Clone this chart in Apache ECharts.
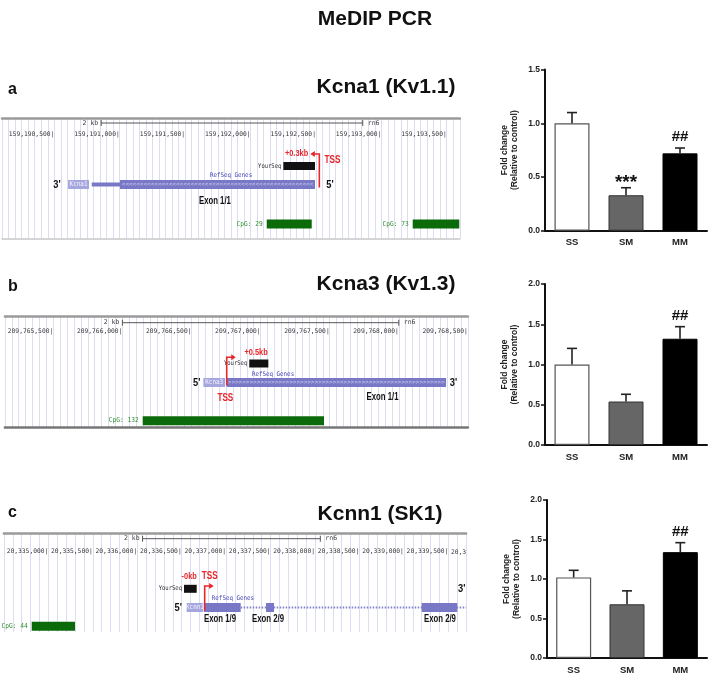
<!DOCTYPE html>
<html><head><meta charset="utf-8">
<script src="https://cdn.jsdelivr.net/npm/echarts@6/dist/echarts.min.js"></script>
<style>html,body{margin:0;padding:0;background:#fff}#c{width:708px;height:678px}</style>
</head><body><div id="c"></div>
<script>
// ---------------- bar chart data ----------------
const groups = ['SS', 'SM', 'MM'];
const kcna1Mean = [1.00, 0.33, 0.72];
const kcna1Upper = [1.10, 0.40, 0.77];
const kcna1Sig = ['', '***', '##'];
const kcna3Mean = [1.00, 0.54, 1.32];
const kcna3Upper = [1.20, 0.63, 1.47];
const kcna3Sig = ['', '', '##'];
const kcnn1Mean = [1.02, 0.68, 1.34];
const kcnn1Upper = [1.11, 0.85, 1.46];
const kcnn1Sig = ['', '', '##'];
const yMaxA = 1.5, yMaxB = 2.0, yMaxC = 2.0, yStep = 0.5;

// ---------------- genome browser data (genomic coordinates) ----------------
const kcna1Window = [159190100, 159193600];
const kcna3Window = [209765150, 209768500];
const kcnn1Window = [20334500, 20339700];
const guideStepA = 50, guideStepB = 50, guideStepC = 100, labelStep = 500;

const kcna1Features = [
  ['ruler', 159190858, 159192858, '2 kb'],
  ['name', 159190605, 159190765, 'Kcna1'],
  ['utr', 159190786, 159191002],
  ['cds', 159191002, 159192493, '<'],
  ['yourseq', 159192251, 159192493],
  ['cpg', 159192124, 159192468, 'CpG: 29'],
  ['cpg', 159193240, 159193596, 'CpG: 73'],
  ['tss', 159192526, 159192526, '', -1],
  ['prime', 159190520, 159190520, "3'", 'gene'],
  ['prime', 159192608, 159192608, "5'", 'gene'],
  ['refseq', 159191851, 159191851, 'RefSeq Genes'],
  ['exon', 159191728, 159191728, 'Exon 1/1'],
  ['shift', 159192352, 159192352, '+0.3kb'],
  ['tssLabel', 159192627, 159192627, 'TSS']
];
const kcna3Features = [
  ['ruler', 209766000, 209768000, '2 kb'],
  ['name', 209766586, 209766743, 'Kcna3'],
  ['cds', 209766755, 209768342, '>'],
  ['yourseq', 209766918, 209767056],
  ['cpg', 209766147, 209767459, 'CpG: 132'],
  ['tss', 209766755, 209766755, '', 1],
  ['prime', 209766538, 209766538, "5'", 'gene'],
  ['prime', 209768395, 209768395, "3'", 'gene'],
  ['refseq', 209767090, 209767090, 'RefSeq Genes'],
  ['exon', 209767882, 209767882, 'Exon 1/1'],
  ['shift', 209766967, 209766967, '+0.5kb'],
  ['tssLabel', 209766745, 209766745, 'TSS']
];
const kcnn1Features = [
  ['ruler', 20336060, 20338060, '2 kb'],
  ['intron', 20337164, 20339700],
  ['name', 20336556, 20336743, 'Kcnn1'],
  ['cds', 20336751, 20337164, ''],
  ['cds', 20337449, 20337539, ''],
  ['cds', 20339200, 20339601, ''],
  ['yourseq', 20336526, 20336669],
  ['cpg', 20334813, 20335300, 'CpG: 44'],
  ['tss', 20336759, 20336759, '', 1],
  ['prime', 20336462, 20336462, "5'", 'gene'],
  ['prime', 20339650, 20339650, "3'", 'yourseq'],
  ['refseq', 20337077, 20337077, 'RefSeq Genes'],
  ['exon', 20336931, 20336931, 'Exon 1/9'],
  ['exon', 20337471, 20337471, 'Exon 2/9'],
  ['exon', 20339406, 20339406, 'Exon 2/9'],
  ['shift', 20336585, 20336585, '-0kb'],
  ['tssLabel', 20336815, 20336815, 'TSS'],
  ['cutLabel', 20339700, 20339700, '20,3']
];

// ---------------- layout ----------------
const browserLayouts = [
  {left: 2, width: 457.8, top: 118, height: 121, labelMargin: 13, bottom: {show: true, color: '#c8c8c8', width: 1.5},
   rows: {ruler: 5, shift: 35, tssTop: 36, tssLabel: 42, yourseq: 48, refseq: 57.7, gene: 66.5, exon: 82.7, cpg: 106, axisLbl: 17}},
  {left: 4.9, width: 463, top: 316, height: 111, labelMargin: 12.5, bottom: {show: true, color: '#777', width: 2.5},
   rows: {ruler: 6.7, shift: 36.7, tssTop: 41.3, tssLabel: 82.3, yourseq: 47.5, refseq: 58.3, gene: 66.5, exon: 81.3, cpg: 104.7, axisLbl: 16.7}},
  {left: 3.9, width: 462.2, top: 533, height: 99, labelMargin: 15.5, bottom: {show: false, color: '#ccc', width: 1},
   rows: {ruler: 5.7, shift: 43, tssTop: 53, tssLabel: 43, yourseq: 55.8, refseq: 65.3, gene: 74.5, exon: 86.3, cpg: 93.3, axisLbl: 19.7}}
];
const barLayouts = [
  {left: 545, top: 69.6, width: 162, height: 161.1},
  {left: 545, top: 284, width: 162, height: 161},
  {left: 547, top: 500, width: 160, height: 158}
];

const GENE = '#7878c6', RED = '#e8262b', CPG = '#0b6b0b';
const SANS = 'Liberation Sans, Arial, sans-serif';
const MONO = 'DejaVu Sans Mono, monospace';
const AXLBL = 6.3;

function fmtGenome(v) {
  return String(Math.round(v)).replace(/\B(?=(\d{3})+(?!\d))/g, ',') + '|';
}

function txt(x, y, text, font, fill, align, scaleX) {
  return {type: 'text', x: x, y: y, scaleX: scaleX || 1,
    style: {text: text, x: 0, y: 0, font: font, fill: fill, textAlign: align || 'center', textVerticalAlign: 'middle'}};
}

function makeBrowserRender(features, L) {
  return function (params, api) {
    const f = features[params.dataIndex];
    const kind = f[0];
    const top = params.coordSys.y;
    const R = L.rows;
    const X = p => api.coord([p, 0])[0];
    const x1 = X(f[1]);
    const x2 = X(f[2]);
    const gy = top + R.gene;
    const ch = [];
    if (kind === 'ruler') {
      const y = top + R.ruler;
      ch.push({type: 'line', shape: {x1: x1, y1: y, x2: x2, y2: y}, style: {stroke: '#555', lineWidth: 1}});
      ch.push({type: 'line', shape: {x1: x1, y1: y - 3, x2: x1, y2: y + 3}, style: {stroke: '#555', lineWidth: 1}});
      ch.push({type: 'line', shape: {x1: x2, y1: y - 3, x2: x2, y2: y + 3}, style: {stroke: '#555', lineWidth: 1}});
      ch.push(txt(x1 - 3, y, f[3], '6.5px ' + MONO, '#444', 'right'));
      ch.push(txt(x2 + 5, y, 'rn6', '6.5px ' + MONO, '#444', 'left'));
    } else if (kind === 'name') {
      ch.push({type: 'rect', shape: {x: x1, y: gy - 4.5, width: x2 - x1, height: 9}, style: {fill: '#a6a6de'}});
      ch.push(txt((x1 + x2) / 2, gy, f[3], '7px ' + MONO, '#f4f4ff', 'center', 0.85));
    } else if (kind === 'utr') {
      ch.push({type: 'rect', shape: {x: x1, y: gy - 2, width: x2 - x1, height: 4}, style: {fill: GENE}});
    } else if (kind === 'cds') {
      const w = x2 - x1;
      ch.push({type: 'rect', shape: {x: x1, y: gy - 4.5, width: w, height: 9}, style: {fill: GENE}});
      if (f[3]) {
        const n = Math.max(0, Math.floor((w - 3) / 3.6));
        ch.push(txt((x1 + x2) / 2, gy, f[3].repeat(n), '6px ' + MONO, '#d6d6f6', 'center'));
      }
    } else if (kind === 'intron') {
      ch.push({type: 'line', shape: {x1: x1, y1: gy, x2: x2, y2: gy}, style: {stroke: '#8282cc', lineWidth: 2, lineDash: [1.5, 1.5]}});
    } else if (kind === 'yourseq') {
      const y = top + R.yourseq;
      ch.push({type: 'rect', shape: {x: x1, y: y - 4, width: x2 - x1, height: 8}, style: {fill: '#111'}});
      ch.push(txt(x1 - 2, y, 'YourSeq', '6.5px ' + MONO, '#333', 'right', 0.85));
    } else if (kind === 'cpg') {
      const y = top + R.cpg;
      ch.push({type: 'rect', shape: {x: x1, y: y - 4.5, width: x2 - x1, height: 9}, style: {fill: CPG}});
      ch.push(txt(x1 - 4, y, f[3], '6.9px ' + MONO, '#2f8f2f', 'right', 0.9));
    } else if (kind === 'tss') {
      const dir = f[4];
      const yt = top + R.tssTop;
      const tip = x1 + dir * 9;
      ch.push({type: 'polyline', shape: {points: [[x1, gy + 3], [x1, yt], [tip - dir * 3, yt]]}, style: {stroke: RED, lineWidth: 1.6, fill: null}});
      ch.push({type: 'polygon', shape: {points: [[tip, yt], [tip - dir * 4.5, yt - 3], [tip - dir * 4.5, yt + 3]]}, style: {fill: RED}});
    } else if (kind === 'prime') {
      ch.push(txt(x1, top + R[f[4]], f[3], 'bold 11px ' + SANS, '#111', 'center', 0.85));
    } else if (kind === 'refseq') {
      ch.push(txt(x1, top + R.refseq, f[3], '6.5px ' + MONO, '#4646b4', 'center', 0.9));
    } else if (kind === 'exon') {
      ch.push(txt(x1, top + R.exon, f[3], 'bold 10.5px ' + SANS, '#111', 'center', 0.74));
    } else if (kind === 'shift') {
      ch.push(txt(x1, top + R.shift, f[3], 'bold 9.5px ' + SANS, RED, 'center', 0.78));
    } else if (kind === 'tssLabel') {
      ch.push(txt(x1, top + R.tssLabel, f[3], 'bold 10.5px ' + SANS, RED, 'center', 0.78));
    } else if (kind === 'cutLabel') {
      ch.push(txt(x1, top + R.axisLbl, f[3], AXLBL + 'px ' + MONO, '#333', 'right'));
    }
    return {type: 'group', children: ch};
  };
}

function makeErrRender(sig) {
  return function (params, api) {
    const i = api.value(0);
    const p0 = api.coord([i, api.value(1)]);
    const p1 = api.coord([i, api.value(2)]);
    const ch = [
      {type: 'line', shape: {x1: p0[0], y1: p0[1], x2: p1[0], y2: p1[1]}, style: {stroke: '#222', lineWidth: 1.6}},
      {type: 'line', shape: {x1: p1[0] - 5, y1: p1[1], x2: p1[0] + 5, y2: p1[1]}, style: {stroke: '#222', lineWidth: 1.6}}
    ];
    const s = sig[i];
    if (s) {
      const star = s[0] === '*';
      ch.push(txt(p1[0], p1[1] - (star ? 5 : 11), s, 'bold ' + (star ? 19 : 15) + 'px ' + SANS, '#111', 'center'));
    }
    return {type: 'group', children: ch};
  };
}

const browsers = [
  {win: kcna1Window, step: guideStepA, feats: kcna1Features},
  {win: kcna3Window, step: guideStepB, feats: kcna3Features},
  {win: kcnn1Window, step: guideStepC, feats: kcnn1Features}
];
const bars = [
  {mean: kcna1Mean, upper: kcna1Upper, sig: kcna1Sig, max: yMaxA},
  {mean: kcna3Mean, upper: kcna3Upper, sig: kcna3Sig, max: yMaxB},
  {mean: kcnn1Mean, upper: kcnn1Upper, sig: kcnn1Sig, max: yMaxC}
];
const barStyles = [
  {color: '#ffffff', borderColor: '#555', borderWidth: 1.2},
  {color: '#666666', borderColor: '#333', borderWidth: 1},
  {color: '#000000', borderColor: '#000', borderWidth: 1}
];

const grid = [], xAxis = [], yAxis = [], series = [];
browsers.forEach((b, k) => {
  const L = browserLayouts[k];
  grid.push({left: L.left, top: L.top, width: L.width, height: L.height, containLabel: false, outerBoundsMode: 'none'});
  xAxis.push({
    gridIndex: k, type: 'value', position: 'top', min: b.win[0], max: b.win[1], interval: b.step,
    axisLine: {show: true, onZero: false, lineStyle: {color: '#9a9a9a', width: 2.5}},
    axisTick: {show: false},
    axisLabel: {inside: true, margin: L.labelMargin, align: 'right', fontFamily: MONO, fontSize: AXLBL, color: '#333',
      formatter: v => (Math.round(v) % labelStep === 0 && Math.round(v) !== b.win[0] ? fmtGenome(v) : '')},
    splitLine: {show: true, lineStyle: {color: '#dcdcf2', width: 1}}
  });
  xAxis.push({
    gridIndex: k, type: 'value', position: 'bottom', min: b.win[0], max: b.win[1], show: L.bottom.show,
    axisLine: {show: L.bottom.show, onZero: false, lineStyle: {color: L.bottom.color, width: L.bottom.width}},
    axisTick: {show: false}, axisLabel: {show: false}, splitLine: {show: false}
  });
  yAxis.push({gridIndex: k, type: 'value', min: 0, max: 1, show: false});
  series.push({type: 'custom', xAxisIndex: 2 * k, yAxisIndex: k, silent: true, clip: false,
    data: b.feats.map(f => [f[1], 0]), renderItem: makeBrowserRender(b.feats, L)});
});
bars.forEach((b, k) => {
  const L = barLayouts[k];
  const gi = 3 + k;
  grid.push({left: L.left, top: L.top, width: L.width, height: L.height, containLabel: false, outerBoundsMode: 'none'});
  xAxis.push({
    gridIndex: gi, type: 'category', data: groups,
    axisLine: {lineStyle: {color: '#111', width: 2}},
    axisTick: {alignWithLabel: true, length: 4, lineStyle: {color: '#111', width: 1.5}},
    axisLabel: {fontFamily: SANS, fontWeight: 'bold', fontSize: 9.5, color: '#222', margin: 7}
  });
  yAxis.push({
    gridIndex: gi, type: 'value', min: 0, max: b.max, interval: yStep,
    axisLine: {show: true, lineStyle: {color: '#111', width: 2}},
    axisTick: {show: true, length: 4, lineStyle: {color: '#111', width: 1.5}},
    splitLine: {show: false},
    axisLabel: {formatter: v => v.toFixed(1), fontFamily: SANS, fontWeight: 'bold', fontSize: 8.5, color: '#222', margin: 5},
    name: 'Fold change\n(Relative to control)', nameLocation: 'middle', nameGap: 25, nameRotate: 90,
    nameTextStyle: {fontFamily: SANS, fontWeight: 'bold', fontSize: 8.5, color: '#222', lineHeight: 10}
  });
  series.push({type: 'bar', xAxisIndex: 6 + k, yAxisIndex: 3 + k, barWidth: 35, silent: true,
    data: b.mean.map((v, i) => ({value: v, itemStyle: barStyles[i]}))});
  series.push({type: 'custom', xAxisIndex: 6 + k, yAxisIndex: 3 + k, silent: true, z: 5,
    data: b.mean.map((v, i) => [i, v, b.upper[i]]),
    encode: {x: 0, y: [1, 2]},
    renderItem: makeErrRender(b.sig)});
});

const titleFont = {fontFamily: SANS, fontWeight: 'bold', fontSize: 21, color: '#111'};
const letterFont = {fontFamily: SANS, fontWeight: 'bold', fontSize: 16, color: '#111'};
const option = {
  animation: false,
  backgroundColor: '#fff',
  title: [
    {text: 'MeDIP PCR', left: 370, top: 4, textAlign: 'center', textStyle: titleFont},
    {text: 'Kcna1 (Kv1.1)', left: 381, top: 72, textAlign: 'center', textStyle: titleFont},
    {text: 'Kcna3 (Kv1.3)', left: 381, top: 269, textAlign: 'center', textStyle: titleFont},
    {text: 'Kcnn1 (SK1)', left: 375, top: 499, textAlign: 'center', textStyle: titleFont},
    {text: 'a', left: 3, top: 77, textStyle: letterFont},
    {text: 'b', left: 3, top: 274, textStyle: letterFont},
    {text: 'c', left: 3, top: 500, textStyle: letterFont}
  ],
  grid: grid, xAxis: xAxis, yAxis: yAxis, series: series
};
const chart = echarts.init(document.getElementById('c'), null, {renderer: 'canvas'});
chart.setOption(option);
</script></body></html>
